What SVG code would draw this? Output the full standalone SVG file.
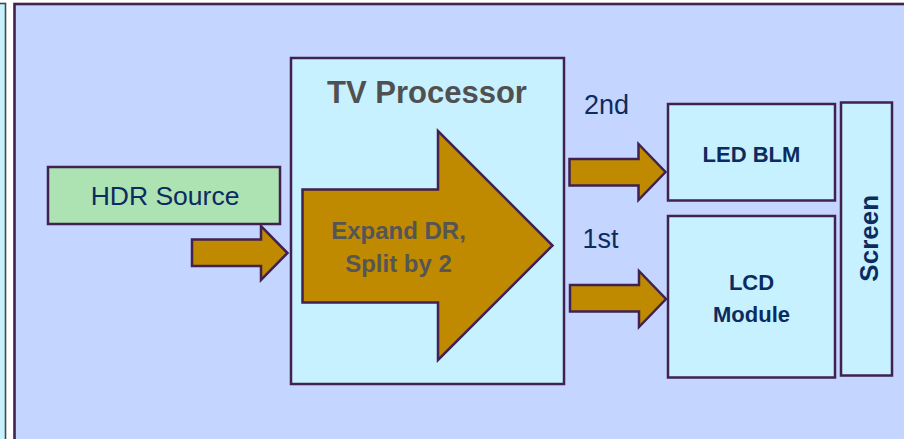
<svg xmlns="http://www.w3.org/2000/svg" width="904" height="439" viewBox="0 0 904 439">
  <style>
    .box { stroke: #40214f; stroke-width: 2.5; }
    .cyan { fill: #c7f1ff; }
    .arrow { fill: #bf8a00; stroke: #40214f; stroke-width: 2.5; stroke-linejoin: miter; }
    .t { font-family: "Liberation Sans", Arial, sans-serif; fill: #0c2b5e; text-anchor: middle; }
    .b { font-weight: bold; }
  </style>
  <rect width="904" height="439" fill="#ffffff"/>

  <!-- neighbouring panel, cut at the left edge -->
  <rect x="-10" y="3.5" width="15.5" height="450" fill="#c7f1ff" stroke="#3f4a4a" stroke-width="1.6"/>

  <!-- outer panel -->
  <rect id="panel" x="14.5" y="4" width="900" height="445" fill="#c4d5ff" stroke="#40214f" stroke-width="2.6"/>

  <g id="hdr-source">
    <rect class="box" x="48" y="167" width="232" height="57" fill="#ade2b3"/>
    <text class="t" x="165" y="205" font-size="26.5">HDR Source</text>
  </g>

  <g id="tv-processor">
    <rect class="box cyan" x="291" y="58" width="273" height="326"/>
    <text class="t b" x="427" y="102.5" font-size="31" fill="#505050" style="fill:#505050">TV Processor</text>
    <path class="arrow" d="M302.5 189.5 H438 V131 L552.5 245.5 L438 360 V302.5 H302.5 Z"/>
    <text class="t b" x="398.5" y="238.5" font-size="24" style="fill:#555555">Expand DR,</text>
    <text class="t b" x="398.5" y="271.5" font-size="24" style="fill:#555555">Split by 2</text>
  </g>

  <g id="led-blm">
    <rect class="box cyan" x="668" y="104" width="167" height="96.5"/>
    <text class="t b" x="751.5" y="161.5" font-size="22">LED BLM</text>
  </g>

  <g id="lcd-module">
    <rect class="box cyan" x="668" y="216" width="167" height="161.5"/>
    <text class="t b" x="751.5" y="290" font-size="22">LCD</text>
    <text class="t b" x="751.5" y="322" font-size="22">Module</text>
  </g>

  <g id="screen">
    <rect class="box cyan" x="841" y="102.5" width="51" height="273"/>
    <text class="t b" transform="translate(878.3 238.3) rotate(-90)" x="0" y="0" font-size="26">Screen</text>
  </g>

  <g id="connectors">
    <path class="arrow" d="M192 239.5 H261 V226 L287.5 253 L261 280 V266 H192 Z"/>
    <path class="arrow" d="M569.5 159 H638.5 V144 L665.5 172 L638.5 200 V185.5 H569.5 Z"/>
    <path class="arrow" d="M570 285 H639 V271 L666 299 L639 327 V311.5 H570 Z"/>
    <text class="t" x="606.5" y="114" font-size="27">2nd</text>
    <text class="t" x="600.5" y="248.3" font-size="27">1st</text>
  </g>
</svg>
